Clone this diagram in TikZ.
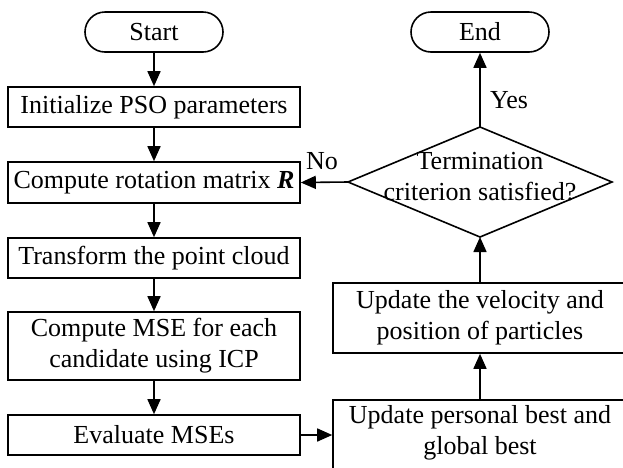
\documentclass[tikz,border=0pt]{standalone}
\usepackage{fontspec}
\setmainfont{Liberation Serif}
\usetikzlibrary{arrows.meta}
\begin{document}
\begin{tikzpicture}[x=1pt,y=-1pt,
  every node/.style={font=\fontsize{26}{31}\selectfont},
  box/.style={draw,line width=1.6pt,rectangle,inner sep=0pt,align=center},
  term/.style={draw,line width=1.6pt,rounded corners=20pt,inner sep=0pt,minimum width=138pt,minimum height=40pt},
  arr/.style={line width=1.6pt,-{Triangle[length=15pt,width=13pt]}},
  lbl/.style={inner sep=0pt}]
\useasboundingbox (0,0) rectangle (623,467);
\clip (0,0) rectangle (623,467);
\fill[white] (0,0) rectangle (623,467);
\node[term] (start) at (154,32) {Start};
\node[box,minimum width=292pt,minimum height=40pt] (init) at (154,107) {Initialize PSO parameters};
\node[box,minimum width=292pt,minimum height=41pt] (rot) at (154,182.5) {Compute rotation matrix \textbf{\textit{R}}};
\node[box,minimum width=292pt,minimum height=40pt] (trans) at (154,258) {Transform the point cloud};
\node[box,minimum width=292pt,minimum height=68pt] (mse) at (154,346) {Compute MSE for each\\candidate using ICP};
\node[box,minimum width=292pt,minimum height=40pt] (eval) at (154,435) {Evaluate MSEs};
\node[box,minimum width=294pt,minimum height=70pt] (pers) at (480,435) {};
\node[align=center,inner sep=0pt] (perstext) at (480,433) {Update personal best and\\global best};
\node[box,minimum width=294pt,minimum height=70pt] (vel) at (480,318) {Update the velocity and\\position of particles};
\path[draw,line width=1.6pt] (348,182) coordinate (dl) -- (480,127) coordinate (dt) -- (612,182) coordinate (dr) -- (480,237) coordinate (db) -- cycle;
\node[align=center,inner sep=0pt] (diatext) at (480,177) {Termination\\criterion satisfied?};
\node[term] (end) at (480,32) {End};
\draw[arr] (start) -- (init);
\draw[arr] (init) -- (rot);
\draw[arr] (rot) -- (trans);
\draw[arr] (trans) -- (mse);
\draw[arr] (mse) -- (eval);
\draw[arr] (eval.east) -- (pers.west |- eval.east);
\draw[arr] (pers.north) -- (vel.south);
\draw[arr] (vel.north) -- (db);
\draw[arr] (dt) -- (end.south);
\draw[arr] (dl) -- (rot.east);
\node[lbl] (yes) at (509,100) {Yes};
\node[lbl] (no) at (322,161) {No};
\end{tikzpicture}
\end{document}
